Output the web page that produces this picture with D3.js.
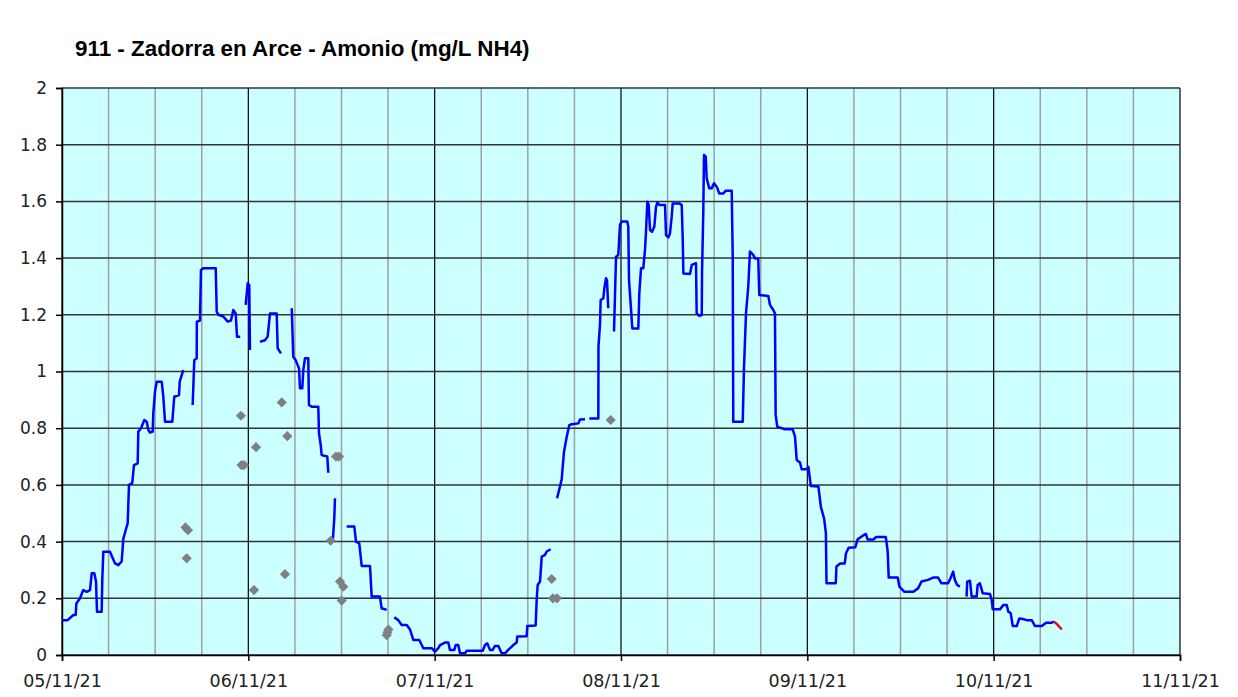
<!DOCTYPE html>
<html>
<head>
<meta charset="utf-8">
<script src="https://cdn.jsdelivr.net/npm/d3@7"></script>
<style>
  html, body { margin: 0; padding: 0; background: #ffffff; }
  svg { display: block; }
</style>
</head>
<body>
<svg id="chart" width="1238" height="697"></svg>
<script>
// ---- Data (hours since 05/11/21 00:00, mg/L NH4) ----
const title = "911 - Zadorra en Arce - Amonio (mg/L NH4)";
const startDate = new Date(2021, 10, 5, 0, 0);
const endDate = new Date(2021, 10, 11, 0, 0);
const yTicks = [0, 0.2, 0.4, 0.6, 0.8, 1, 1.2, 1.4, 1.6, 1.8, 2];

const lineHours = [
  0, 0.73, 1.46, 1.76, 1.85, 2.32, 2.74, 3.18, 3.61, 3.83, 4.16, 4.38, 4.51, 5.11, 5.19, 5.32, 6.18, 6.83, 7.25, 7.69,
  7.9, 8.2, 8.46, 8.63, 9.05, 9.27, 9.75, 9.83, 10.18, 10.6, 10.91, 11.12, 11.33, 11.68, 11.76, 11.98, 12.2, 12.84, 13.05, 13.27,
  14.21, 14.46, 15.07, 15.16, 15.62, 16.5,
  16.83, 17.04, 17.35, 17.37, 17.77, 17.9, 18.2, 19.8, 19.93, 20.14, 20.78, 21.34, 21.77, 22.06, 22.37, 22.54, 22.96, 23.3,
  23.66, 23.92, 24.12, 24.21, 24.6,
  25.5, 26.14, 26.49, 26.79, 27.65, 27.78, 28.21, 28.8,
  29.59, 29.79, 30.1, 30.53, 30.65, 30.95, 31.08, 31.3, 31.72, 31.81, 32.16, 33.01, 33.1, 33.32, 33.45, 34.17, 34.3, 34.6,
  34.9, 35.07, 35.16, 35.8,
  36.67, 37.65, 37.87, 38.29, 38.6, 39.67, 39.89, 40.95, 41.17, 41.82, 42.3,
  42.8, 43.31, 43.75, 44.4, 44.82, 45.25, 46.02, 46.54, 47.62, 48.04, 48.47, 48.69, 49.33, 49.76, 49.97, 50.53, 50.71, 51.04, 51.26, 51.91,
  52.13, 54.19, 54.48, 54.78, 55.13, 55.47, 55.77, 56.2, 56.63, 57.06, 57.48, 58.13, 58.56, 58.64, 59.85, 59.93, 61.01, 61.14, 61.27, 61.57,
  61.79, 62.21, 62.43, 62.94, 63.4,
  63.76, 64.14, 64.36, 64.66, 65.01, 65.34, 65.65, 66.5, 66.72, 67.37, 67.6,
  67.92, 69.08, 69.1, 69.3, 69.38, 69.72, 69.85, 70.07, 70.2, 70.36, 70.8,
  71.1, 71.36, 71.65, 71.87, 72.09, 72.81, 72.94, 73.03, 73.25, 73.46, 74.23, 74.36, 74.58, 74.87, 75.09, 75.22, 75.39, 75.57, 75.74, 76,
  76.29, 76.51, 76.68, 76.94, 77.67, 77.8, 78.09, 78.31, 78.53, 78.66, 79.51, 79.82, 79.95, 80.03, 80.89, 81.11, 81.66, 81.75, 82.09, 82.4,
  82.44, 82.6, 82.69, 82.91, 83.04, 83.37, 83.68, 83.98, 84.33, 84.66, 85.18, 85.49, 86.26, 86.39, 86.46, 87.68, 87.84, 88.1, 88.39, 88.61,
  89.04, 89.26, 89.68, 89.81, 90.97, 91.19, 91.61, 91.83, 91.92, 92.13, 93.12, 94.11, 94.41, 94.63, 95.06, 95.27, 95.92, 96.13, 96.45, 97.43,
  97.74, 98.17, 98.39, 98.47, 99.66, 99.75, 100.24, 100.82, 100.98, 101.32, 102.18, 102.48, 103.1, 103.54, 103.77, 104.51, 104.83, 106.11, 106.35, 106.48,
  107.64, 107.86, 108.51, 109.65, 110.26, 110.7, 111.55, 112.2, 112.84, 113.28, 114.13, 114.44, 114.78, 115, 115.3, 115.65, 116.2,
  116.51, 116.59, 116.94, 117.17, 117.81, 117.94, 118.23, 118.58, 119.53, 119.75, 119.88, 120.81, 121.24, 121.68, 121.89, 122.2, 122.46, 122.97, 123.31, 123.75,
  124.26, 124.91, 125.33, 126.2, 126.75, 127.49, 127.79
];
const lineValues = [
  0.123, 0.123, 0.141, 0.141, 0.182, 0.2, 0.229, 0.223, 0.229, 0.288, 0.288, 0.259, 0.153, 0.153, 0.265, 0.364, 0.364, 0.323, 0.317, 0.33,
  0.41, 0.44, 0.465, 0.6, 0.606, 0.67, 0.676, 0.788, 0.8, 0.829, 0.823, 0.794, 0.785, 0.788, 0.853, 0.929, 0.964, 0.964, 0.911, 0.823,
  0.823, 0.911, 0.917, 0.964, 1.005, null,
  0.882, 1.04, 1.047, 1.176, 1.18, 1.358, 1.364, 1.364, 1.211, 1.2, 1.194, 1.176, 1.18, 1.217, 1.205, 1.123, 1.123, null,
  1.235, 1.311, 1.305, 1.076, null,
  1.105, 1.11, 1.123, 1.205, 1.205, 1.082, 1.064, null,
  1.223, 1.052, 1.04, 1.011, 0.941, 0.941, 1.005, 1.047, 1.047, 0.882, 0.876, 0.876, 0.782, 0.741, 0.705, 0.7, 0.643, null,
  0.41, 0.482, 0.553, null,
  0.453, 0.453, 0.4, 0.394, 0.314, 0.314, 0.206, 0.206, 0.165, 0.159, null,
  0.133, 0.123, 0.106, 0.106, 0.09, 0.053, 0.053, 0.024, 0.024, 0.012, 0.024, 0.035, 0.044, 0.044, 0.018, 0.018, 0.035, 0.035, 0.006, 0.006,
  0.015, 0.015, 0.035, 0.041, 0.018, 0.018, 0.032, 0.032, 0.006, 0.006, 0.018, 0.035, 0.044, 0.065, 0.066, 0.102, 0.104, 0.194, 0.247, 0.259,
  0.347, 0.353, 0.365, 0.373, null,
  0.553, 0.594, 0.62, 0.717, 0.77, 0.811, 0.814, 0.817, 0.831, 0.832, null,
  0.834, 0.834, 1.088, 1.17, 1.252, 1.258, 1.293, 1.329, 1.32, 1.223, null,
  1.141, 1.405, 1.411, 1.517, 1.529, 1.529, 1.511, 1.323, 1.235, 1.152, 1.152, 1.276, 1.364, 1.364, 1.429, 1.493, 1.599, 1.587, 1.499, 1.493,
  1.511, 1.581, 1.596, 1.587, 1.587, 1.481, 1.473, 1.487, 1.546, 1.593, 1.593, 1.587, 1.47, 1.346, 1.344, 1.376, 1.382, 1.205, 1.196, 1.199,
  1.352, 1.564, 1.764, 1.758, 1.681, 1.646, 1.646, 1.664, 1.652, 1.628, 1.628, 1.638, 1.638, 1.405, 0.823, 0.823, 1.011, 1.205, 1.299, 1.423,
  1.411, 1.399, 1.399, 1.27, 1.266, 1.235, 1.217, 1.205, 0.847, 0.805, 0.796, 0.796, 0.77, 0.688, 0.679, 0.655, 0.655, 0.664, 0.596, 0.594,
  0.523, 0.48, 0.43, 0.253, 0.253, 0.312, 0.323, 0.323, 0.359, 0.378, 0.38, 0.408, 0.42, 0.427, 0.407, 0.407, 0.416, 0.416, 0.365, 0.273,
  0.273, 0.241, 0.223, 0.223, 0.235, 0.259, 0.265, 0.273, 0.273, 0.253, 0.253, 0.271, 0.294, 0.265, 0.247, 0.241, null,
  0.206, 0.259, 0.262, 0.206, 0.206, 0.247, 0.253, 0.218, 0.215, 0.194, 0.161, 0.161, 0.176, 0.176, 0.153, 0.147, 0.102, 0.102, 0.129, 0.127,
  0.123, 0.123, 0.102, 0.102, 0.114, 0.114, 0.118
];

const recentHours = [127.79, 128.18, 128.78];
const recentValues = [0.118, 0.108, 0.09];

const sampleHours = [15.9, 16.23, 16.06, 23.05, 23.12, 23.44, 24.99, 24.73, 28.3, 29.02, 28.72, 35.29, 35.68, 34.61, 35.81, 36.23, 36.03, 42.05, 41.92, 41.83, 63.07, 63.24, 63.76, 70.67];
const sampleValues = [0.45, 0.44, 0.341, 0.844, 0.67, 0.67, 0.733, 0.229, 0.891, 0.772, 0.285, 0.70, 0.70, 0.403, 0.259, 0.241, 0.192, 0.09, 0.08, 0.07, 0.268, 0.2, 0.2, 0.829];

// ---- Layout ----
const W = 1238, H = 697;
const margin = { left: 62, top: 88, right: 58, bottom: 42 };
const pw = W - margin.left - margin.right;
const ph = H - margin.top - margin.bottom;

const toDate = h => new Date(startDate.getTime() + h * 3600e3);

const x = d3.scaleTime().domain([startDate, endDate]).range([0, pw]);
const y = d3.scaleLinear().domain([0, 2]).range([ph, 0]);

const svg = d3.select("#chart");
svg.append("rect").attr("width", W).attr("height", H).attr("fill", "#ffffff");

svg.append("text")
  .attr("x", 75).attr("y", 56)
  .attr("font-family", "'Liberation Sans', Arial, sans-serif")
  .attr("font-weight", "bold")
  .attr("font-size", 22.4)
  .attr("fill", "#000")
  .text(title);

const g = svg.append("g").attr("transform", `translate(${margin.left},${margin.top})`);

g.append("rect").attr("width", pw).attr("height", ph).attr("fill", "#ccffff");

// minor vertical gridlines every 6 hours
const minorTicks = d3.timeHour.every(6).range(startDate, endDate).filter(d => d.getHours() !== 0);
g.append("g").selectAll("line").data(minorTicks).join("line")
  .attr("x1", d => x(d)).attr("x2", d => x(d))
  .attr("y1", 0).attr("y2", ph)
  .attr("stroke", "#a0a0a0").attr("stroke-width", 1.5);

// major vertical gridlines (days)
const dayTicks = d3.timeDay.range(startDate, d3.timeDay.offset(endDate, 1));
g.append("g").selectAll("line").data(dayTicks).join("line")
  .attr("x1", d => x(d)).attr("x2", d => x(d))
  .attr("y1", 0).attr("y2", ph)
  .attr("stroke", "#000").attr("stroke-width", 1.2);

// horizontal gridlines
g.append("g").selectAll("line").data(yTicks).join("line")
  .attr("x1", 0).attr("x2", pw)
  .attr("y1", d => y(d)).attr("y2", d => y(d))
  .attr("stroke", "#333").attr("stroke-width", 1.5);

// axes
const yAxis = d3.axisLeft(y).tickValues(yTicks).tickFormat(d3.format("")).tickSize(6).tickPadding(9);
const yg = g.append("g").call(yAxis);
yg.select(".domain").attr("stroke", "#000").attr("stroke-width", 1.5);
yg.selectAll(".tick line").attr("stroke", "#000").attr("stroke-width", 1.5);
yg.selectAll("text").attr("font-family", "'DejaVu Sans', Verdana, sans-serif").attr("font-size", 17).attr("fill", "#222");

const xAxis = d3.axisBottom(x).tickValues(dayTicks).tickFormat(d3.timeFormat("%d/%m/%y")).tickSize(6).tickPadding(14);
const xg = g.append("g").attr("transform", `translate(0,${ph})`).call(xAxis);
xg.select(".domain").attr("stroke", "#000").attr("stroke-width", 1.5);
xg.selectAll(".tick line").attr("stroke", "#000").attr("stroke-width", 1.5);
xg.selectAll("text").attr("font-family", "'DejaVu Sans', Verdana, sans-serif").attr("font-size", 17.5).attr("fill", "#222");

// main line
const lineData = lineHours.map((h, i) => ({ t: toDate(h), v: lineValues[i] }));
const line = d3.line().defined(d => d.v !== null).x(d => x(d.t)).y(d => y(d.v));
g.append("path").datum(lineData)
  .attr("d", line).attr("fill", "none")
  .attr("stroke", "#0000ff").attr("stroke-width", 2.5).attr("stroke-linejoin", "round");

const recentData = recentHours.map((h, i) => ({ t: toDate(h), v: recentValues[i] }));
g.append("path").datum(recentData)
  .attr("d", line).attr("fill", "none")
  .attr("stroke", "#ff0000").attr("stroke-width", 2.5);

// sample points (diamonds)
const sampleData = sampleHours.map((h, i) => ({ t: toDate(h), v: sampleValues[i] }));
const diamond = d3.symbol().type(d3.symbolSquare).size(52);
g.append("g").selectAll("path").data(sampleData).join("path")
  .attr("d", diamond)
  .attr("transform", d => `translate(${x(d.t)},${y(d.v)}) rotate(45)`)
  .attr("fill", "#808080");
</script>
</body>
</html>
